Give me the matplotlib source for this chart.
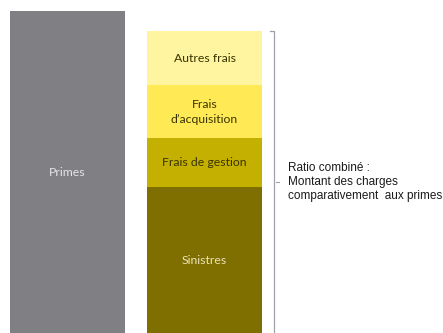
"""
Ratio combiné : primes vs charges (stacked bar).
"""
import matplotlib
matplotlib.use("Agg")
import matplotlib.pyplot as plt

# values (% of premiums)
primes = 100.0
segments = ["Sinistres", "Frais de gestion", "Frais\nd\u2019acquisition", "Autres frais"]
seg_values = [45.3, 15.2, 16.5, 16.8]
seg_colors = ["#7f6f00", "#c4b000", "#ffea55", "#fff5a0"]
seg_text_colors = ["#ece4b8", "#3a3400", "#3a3400", "#3a3400"]
note_lines = ["Ratio combiné :", "Montant des charges", "comparativement  aux primes"]

W, H = 443, 333
fig = plt.figure(figsize=(W / 100, H / 100), dpi=100)
ax = fig.add_axes([0, 0, 1, 1])

px_per_unit = 3.22
ax.set_ylim(0, H / px_per_unit)
ax.set_xlim(-67 / 137.5, (W - 67) / 137.5)
width = 115 / 137.5

lbl_font = dict(family=["Lato", "DejaVu Sans"], fontsize=8.8)

# premiums bar
ax.bar(0, primes, width=width, color="#7f7f84", linewidth=0)
ax.text(0, primes / 2, "Primes", ha="center", va="center", color="#e6e6e6", **lbl_font)

# stacked charges
bottom = 0.0
for name, val, col, tcol in zip(segments, seg_values, seg_colors, seg_text_colors):
    ax.bar(1, val, width=width, bottom=bottom, color=col, linewidth=0)
    ax.text(1, bottom + val / 2, name, ha="center", va="center", color=tcol,
            linespacing=1.45, **lbl_font)
    bottom += val
total = bottom

# bracket on the right of the stack
xb = (274 - 67) / 137.5
tick = 4 / 137.5
ax.plot([xb - tick, xb, xb], [total, total, 0], color="#a0a0a8", lw=0.9,
        solid_joinstyle="miter")
ax.plot([xb + 2 / 137.5, xb + 5 / 137.5], [total / 2, total / 2], color="#a0a0a8", lw=0.8)

ax.text((288 - 67) / 137.5, total / 2, "\n".join(note_lines), ha="left", va="center",
        family=["Liberation Sans", "DejaVu Sans"], fontsize=8.5, color="#1a1a1a",
        linespacing=1.2)

ax.axis("off")
fig.savefig("out.png", dpi=100, facecolor="white")
